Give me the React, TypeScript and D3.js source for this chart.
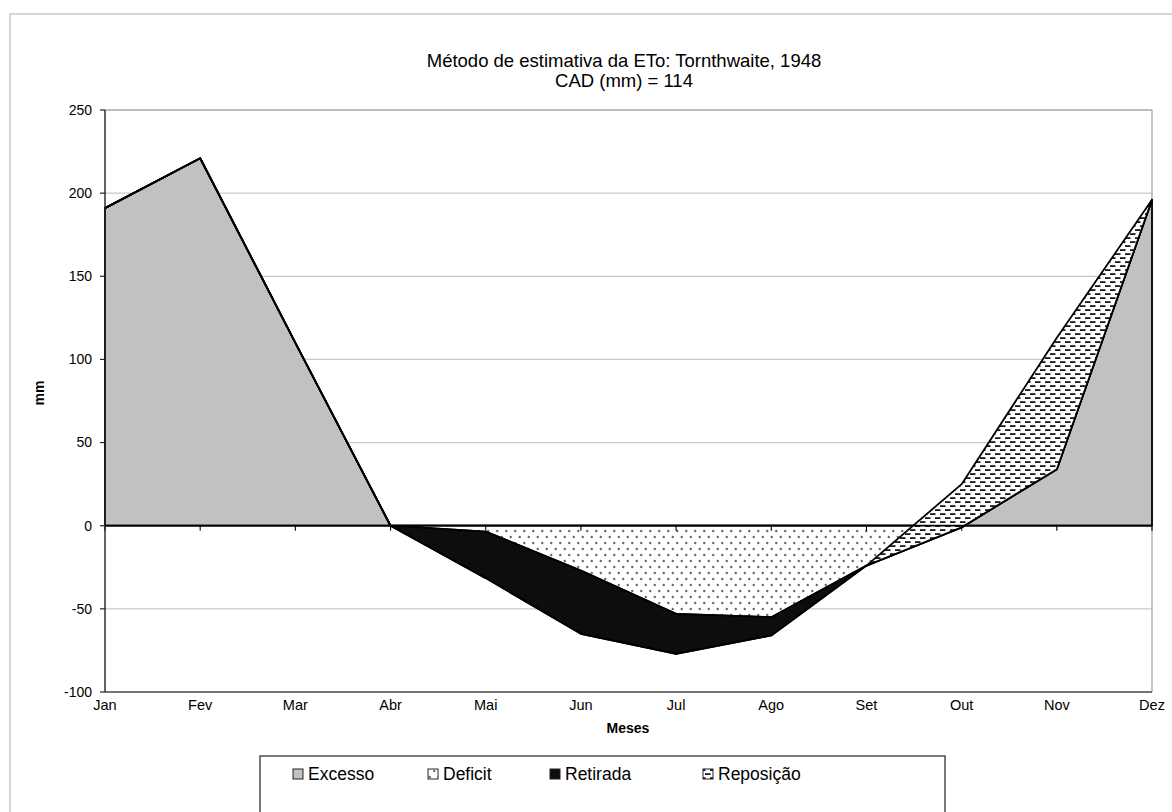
import React from 'react';
import * as d3 from 'd3';

const months = ['Jan', 'Fev', 'Mar', 'Abr', 'Mai', 'Jun', 'Jul', 'Ago', 'Set', 'Out', 'Nov', 'Dez'];
const excesso = [191, 221, 110, 0, 0, 0, 0, 0, 0, 0, 34, 196];
const deficit = [0, 0, 0, 0, -3.5, -27, -53, -55, -24, -1, 0, 0];
const retirada = [0, 0, 0, 0, -28, -38, -24, -11, 0, 0, 0, 0];
const reposicao = [0, 0, 0, 0, 0, 0, 0, 0, 0, 26, 79, 0];
const yTicks = [-100, -50, 0, 50, 100, 150, 200, 250];
const gridTicks = [-50, 50, 100, 150, 200];
const seriesKeys = ['excesso', 'deficit', 'retirada', 'reposicao'];
const legendLabels = ['Excesso', 'Deficit', 'Retirada', 'Reposição'];
const titleLines = ['Método de estimativa da ETo: Tornthwaite, 1948', 'CAD (mm) = 114'];

const W = 1172;
const H = 812;
const FONT = '"Liberation Sans", Arial, sans-serif';

export default function App() {
  const x = d3.scalePoint<string>().domain(months).range([105, 1152]);
  const y = d3.scaleLinear().domain([-100, 250]).range([692, 110]);

  const rows = months.map((m, i) => ({
    month: m,
    excesso: excesso[i],
    deficit: deficit[i],
    retirada: retirada[i],
    reposicao: reposicao[i],
  }));
  const stacked = d3.stack<any>().keys(seriesKeys).offset(d3.stackOffsetNone)(rows);

  const area = d3
    .area<any>()
    .x((d) => x(d.data.month) as number)
    .y0((d) => y(d[0]))
    .y1((d) => y(d[1]));

  const fills: Record<string, string> = {
    excesso: '#c1c1c1',
    deficit: 'url(#dots)',
    retirada: '#0d0d0d',
    reposicao: 'url(#dashes)',
  };

  const legendX = [293, 428, 550, 703];

  return (
    <svg
      width={W}
      height={H}
      style={{ position: 'absolute', left: 0, top: 0, background: '#fff' }}
      fontFamily={FONT}
    >
      <defs>
        <pattern id="dots" width="9" height="12" patternUnits="userSpaceOnUse">
          <rect width="9" height="12" fill="#fff" />
          <circle cx="2.25" cy="3" r="1.2" fill="#666" />
          <circle cx="6.75" cy="9" r="1.2" fill="#666" />
        </pattern>
        <pattern id="dashes" width="10" height="8" patternUnits="userSpaceOnUse">
          <rect width="10" height="8" fill="#fff" />
          <rect x="0" y="1.2" width="5.5" height="1.8" fill="#1a1a1a" />
          <rect x="5" y="5.2" width="5" height="1.8" fill="#1a1a1a" />
          <rect x="0" y="5.2" width="0.5" height="1.8" fill="#1a1a1a" />
        </pattern>
      </defs>
      <rect x={0} y={0} width={W} height={H} fill="#fff" />
      {/* outer chart border */}
      <rect x={10} y={14} width={1200} height={900} fill="none" stroke="#c8c8c8" strokeWidth={1.5} />

      {/* title */}
      {titleLines.map((t, i) => (
        <text key={t} x={624} y={67 + i * 20} textAnchor="middle" fontSize={18.5} fill="#000">
          {t}
        </text>
      ))}

      {/* gridlines */}
      {gridTicks.map((v) => (
        <line key={v} x1={105} x2={1152} y1={y(v)} y2={y(v)} stroke="#c8c8c8" strokeWidth={1.3} />
      ))}

      {/* plot border */}
      <line x1={105} x2={1152} y1={y(250)} y2={y(250)} stroke="#a8a8a8" strokeWidth={1.3} />
      <line x1={1152} x2={1152} y1={y(250)} y2={y(-100)} stroke="#a8a8a8" strokeWidth={1.3} />

      {/* areas */}
      {stacked.map((s) => (
        <path key={s.key} d={area(s) as string} fill={fills[s.key]} stroke="#000" strokeWidth={1.8} strokeLinejoin="round" />
      ))}

      {/* category axis at zero */}
      <line x1={105} x2={1152} y1={y(0)} y2={y(0)} stroke="#000" strokeWidth={1.7} />
      {months.map((m) => (
        <line key={m} x1={x(m)} x2={x(m)} y1={y(0)} y2={y(0) + 5} stroke="#000" strokeWidth={1.1} />
      ))}

      {/* bottom border & y axis */}
      <line x1={105} x2={1152} y1={y(-100)} y2={y(-100)} stroke="#444" strokeWidth={1.4} />
      <line x1={105} x2={105} y1={y(250)} y2={y(-100)} stroke="#222" strokeWidth={1.4} />
      {yTicks.map((v) => (
        <g key={v}>
          <line x1={100} x2={105} y1={y(v)} y2={y(v)} stroke="#222" strokeWidth={1.2} />
          <text x={92} y={y(v)} dy="0.35em" textAnchor="end" fontSize={14} fill="#000">
            {v}
          </text>
        </g>
      ))}
      <text
        transform={`translate(44, ${(y(250) + y(-100)) / 2 - 8}) rotate(-90)`}
        textAnchor="middle"
        fontSize={14}
        fontWeight="bold"
        fill="#000"
      >
        mm
      </text>

      {/* month labels */}
      {months.map((m) => (
        <text key={m} x={x(m)} y={710} textAnchor="middle" fontSize={14.5} fill="#000">
          {m}
        </text>
      ))}
      <text x={628} y={733} textAnchor="middle" fontSize={14} fontWeight="bold" fill="#000">
        Meses
      </text>

      {/* legend */}
      <rect x={260} y={756} width={685} height={80} fill="#fff" stroke="#333" strokeWidth={1.3} />
      {legendLabels.map((l, i) => (
        <g key={l}>
          <rect
            x={legendX[i]}
            y={769}
            width={10}
            height={10}
            fill={fills[seriesKeys[i]]}
            stroke="#222"
            strokeWidth={1}
          />
          <text x={legendX[i] + 15} y={774} dy="0.35em" fontSize={17.5} fill="#000">
            {l}
          </text>
        </g>
      ))}
    </svg>
  );
}
